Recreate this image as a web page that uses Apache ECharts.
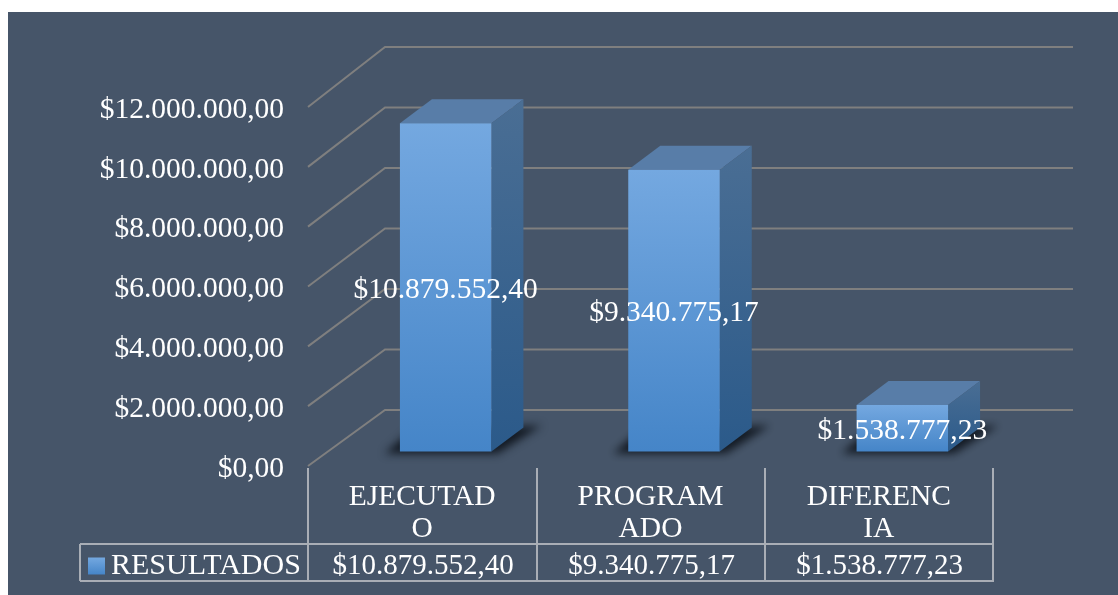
<!DOCTYPE html>
<html>
<head>
<meta charset="utf-8">
<style>
html,body{margin:0;padding:0;background:#fff;overflow:hidden}
#bg{position:absolute;left:8px;top:12px;width:1110px;height:583px;background:#465569}
#chart{position:absolute;left:0;top:0;width:1118px;height:595px}
</style>
<script src="https://cdn.jsdelivr.net/npm/echarts@6/dist/echarts.min.js"></script>
</head>
<body>
<div id="bg"></div>
<div id="chart"></div>
<script>
const categories = ['EJECUTAD\nO', 'PROGRAM\nADO', 'DIFERENC\nIA'];
const seriesName = 'RESULTADOS';
const values = [10879552.40, 9340775.17, 1538777.23];
const valueLabels = ['$10.879.552,40', '$9.340.775,17', '$1.538.777,23'];
const tickValues = [0, 2000000, 4000000, 6000000, 8000000, 10000000, 12000000];
const tickLabels = ['$0,00', '$2.000.000,00', '$4.000.000,00', '$6.000.000,00', '$8.000.000,00', '$10.000.000,00', '$12.000.000,00'];

const FONT = '"Liberation Serif","Times New Roman",serif';
const FS = 29.5;
const WHITE = '#ffffff';
const TABLE = '#a9aeb6';
const GRIDC = '#7f7f7f';
const g = (a, b) => new echarts.graphic.LinearGradient(0, 0, 0, 1, [{offset: 0, color: a}, {offset: 1, color: b}]);

const chart = echarts.init(document.getElementById('chart'), null, {renderer: 'canvas'});

function renderWall(params, api) {
  const cs = params.coordSys;
  const zero = api.coord([0, 0])[1];
  const y = api.coord([0, api.value(0)])[1];
  const backY = zero - 56 - (zero - y) * 1.011;
  return {
    type: 'polyline', silent: true,
    shape: {points: [[cs.x, y], [cs.x + 77, backY], [cs.x + cs.width + 80, backY]]},
    style: {stroke: GRIDC, lineWidth: 2, fill: null}
  };
}

function renderBar(params, api) {
  const idx = api.value(0);
  const c = api.coord([idx, 0]);
  const t = api.coord([idx, api.value(1)]);
  const w = 91.5, dx = 32, dy = 24;
  const cx = c[0] + 23.5;
  const base = c[1] - 14.5;
  const h = (c[1] - t[1]) * 1.0085;
  const l = cx - w / 2, r = l + w;
  const top = base - h;
  const off = 3000;
  const sh = [[l - 15, base + 2], [l + 10, base - 20], [r + 50, base - 26], [r + 6, base + 2]]
    .map(p => [p[0] - off, p[1]]);
  const shadow = {type: 'polygon', silent: true,
    shape: {points: sh},
    style: {fill: '#10161f', shadowBlur: 8, shadowColor: 'rgba(16,22,31,0.95)', shadowOffsetX: off}};
  return {
    type: 'group',
    children: [
      shadow,
      {type: 'polygon', silent: true,
        shape: {points: [[l, top], [l + dx, top - dy], [r + dx, top - dy], [r, top]]},
        style: {fill: '#587da8'}},
      {type: 'polygon', silent: true,
        shape: {points: [[r, top], [r + dx, top - dy], [r + dx, base - dy], [r, base]]},
        style: {fill: g('#4a6e94', '#2b5a8a')}},
      {type: 'rect', silent: true,
        shape: {x: l, y: top, width: w, height: base - top},
        style: {fill: g('#74a8e0', '#4585c8')}},
      {type: 'text', silent: true, z2: 50,
        x: cx, y: (top + base) / 2 + 2.5,
        style: {text: valueLabels[idx], font: FS + 'px ' + FONT, fill: WHITE, align: 'center', verticalAlign: 'middle'}}
    ]
  };
}

function tableElements() {
  const vx = [308, 537, 765, 993];
  const line = (x1, y1, x2, y2) => ({type: 'line', silent: true, z: 5,
    shape: {x1, y1, x2, y2}, style: {stroke: TABLE, lineWidth: 2}});
  const els = vx.map(x => line(x, 468, x, 582));
  els.push(line(80, 544, 993, 544), line(80, 581, 993, 581), line(80, 544, 80, 581));
  valueLabels.forEach((txt, i) => {
    els.push({type: 'text', silent: true, z: 6,
      x: (vx[i] + vx[i + 1]) / 2 + 0.5, y: 566,
      style: {text: txt, font: '29px ' + FONT, fill: WHITE, align: 'center', verticalAlign: 'middle'}});
  });
  return els;
}

chart.setOption({
  animation: false,
  backgroundColor: 'transparent',
  grid: {left: 308, right: 125, top: 107, bottom: 129, containLabel: false},
  legend: {
    show: true, selectedMode: false, left: 88, top: 551, padding: 0,
    data: [{name: seriesName, icon: 'rect'}],
    itemWidth: 17, itemHeight: 17, itemGap: 0,
    itemStyle: {color: g('#74a8e0', '#4585c8')},
    textStyle: {color: WHITE, fontFamily: FONT, fontSize: 30, padding: [5, 0, 0, 1]}
  },
  xAxis: {
    type: 'category', data: categories,
    axisLine: {show: false}, axisTick: {show: false}, splitLine: {show: false},
    axisLabel: {color: WHITE, fontFamily: FONT, fontSize: FS, lineHeight: 32, margin: 15, interval: 0, hideOverlap: false}
  },
  yAxis: {
    type: 'value', min: 0, max: 12000000, interval: 2000000,
    axisLine: {show: false}, axisTick: {show: false}, splitLine: {show: false},
    axisLabel: {
      color: WHITE, fontFamily: FONT, fontSize: FS, margin: 24, verticalAlign: 'top', lineHeight: 6,
      formatter: v => tickLabels[tickValues.indexOf(v)]
    }
  },
  series: [
    {name: 'wall', type: 'custom', z: 1, clip: false, silent: true,
      data: tickValues.map(v => [v]), encode: {y: 0}, renderItem: renderWall},
    {name: seriesName, type: 'custom', z: 3, clip: false, silent: true,
      itemStyle: {color: '#5a96d6'},
      data: values.map((v, i) => [i, v]), encode: {x: 0, y: 1}, renderItem: renderBar}
  ],
  graphic: {elements: tableElements()}
});
</script>
</body>
</html>
